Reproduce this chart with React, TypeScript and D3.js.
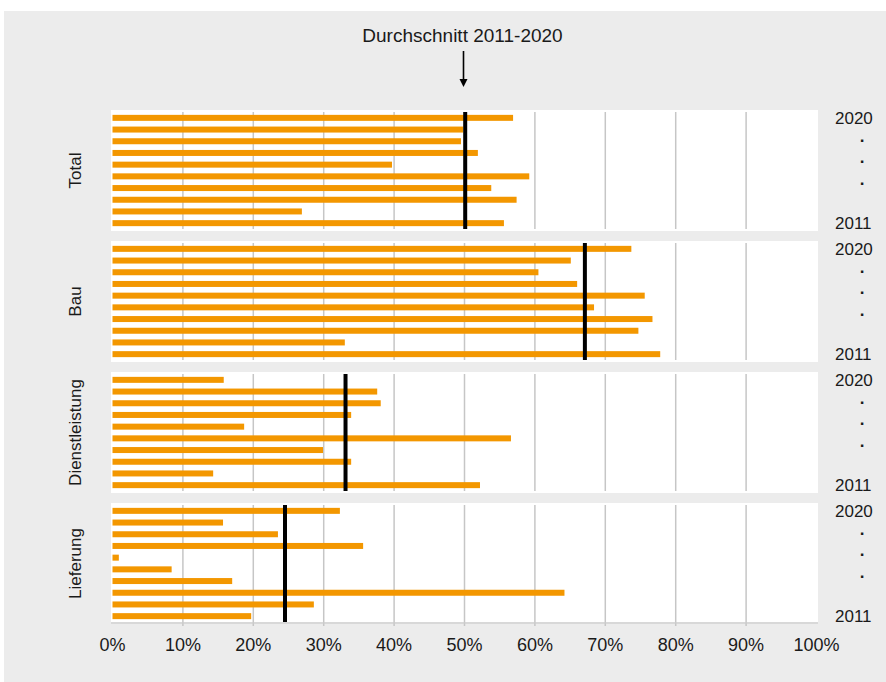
import React from 'react'
import * as d3 from 'd3'

// years from top to bottom inside each panel
const years = ['2020', '2019', '2018', '2017', '2016', '2015', '2014', '2013', '2012', '2011']
const categories = ['Total', 'Bau', 'Dienstleistung', 'Lieferung']

// shares in %, same order as years
const totalValues = [56.9, 49.8, 49.5, 51.9, 39.7, 59.2, 53.8, 57.4, 26.9, 55.6]
const bauValues = [73.7, 65.1, 60.5, 66.0, 75.6, 68.4, 76.7, 74.7, 33.0, 77.8]
const dienstValues = [15.8, 37.6, 38.1, 33.9, 18.7, 56.6, 29.9, 33.9, 14.3, 52.2]
const lieferValues = [32.3, 15.7, 23.5, 35.6, 0.9, 8.4, 17.0, 64.2, 28.6, 19.7]
const averages = [50.1, 67.1, 33.1, 24.5]

const xTicks = [0, 10, 20, 30, 40, 50, 60, 70, 80, 90, 100]
const dotRows = [1.55, 3.35, 5.25]

const W = 886
const H = 682
const FONT = '"Liberation Sans", Arial, Helvetica, sans-serif'
const ORANGE = '#f39700'

export default function App() {
  const series = [totalValues, bauValues, dienstValues, lieferValues]

  const x = d3.scaleLinear().domain([0, 100]).range([112.5, 816.5])
  const panelY = d3.scaleBand<string>().domain(categories).range([110, 110 + 131 * 4]).paddingInner(0)
  const panelH = 121

  return (
    <div style={{ position: 'absolute', left: 0, top: 0 }}>
      <svg width={W} height={H} style={{ display: 'block', fontFamily: FONT }}>
        <rect x={4} y={11} width={W - 4} height={H - 11} fill="#ececec" />

        {/* title + arrow */}
        <text x={462.5} y={41.7} textAnchor="middle" fontSize={19} fill="#1a1a1a">
          Durchschnitt 2011-2020
        </text>
        <line x1={x(50) - 1} x2={x(50) - 1} y1={51} y2={80} stroke="#000" strokeWidth={1.6} />
        <path d={`M${x(50) - 5},79 L${x(50) + 3},79 L${x(50) - 1},87 Z`} fill="#000" />

        {categories.map((cat, ci) => {
          const top = panelY(cat)!
          const y = d3
            .scaleBand<string>()
            .domain(years)
            .range([top + 2, top + 119])
            .paddingInner(0.5)
            .paddingOuter(0.25)
          const bh = 6
          const gridBottom = ci === categories.length - 1 ? top + 113 + 10 : top + 119
          return (
            <g key={cat}>
              <rect x={111} y={top} width={707} height={panelH} fill="#fff" />
              {xTicks.slice(1, -1).map(t => (
                <line key={t} x1={x(t)} x2={x(t)} y1={top + 2} y2={gridBottom} stroke="#c6c6c6" strokeWidth={1.5} />
              ))}
              {series[ci].map((v, i) => (
                <rect
                  key={years[i]}
                  x={x(0)}
                  y={y(years[i])! + y.bandwidth() / 2 - bh / 2}
                  width={x(v) - x(0)}
                  height={bh}
                  fill={ORANGE}
                />
              ))}
              <line x1={x(averages[ci])} x2={x(averages[ci])} y1={top + 2} y2={top + 119} stroke="#000" strokeWidth={4} />

              {/* category label */}
              <text
                transform={`translate(80.5,${top + panelH / 2}) rotate(-90)`}
                textAnchor="middle"
                fontSize={17}
                fill="#1a1a1a"
              >
                {cat}
              </text>

              {/* year labels on the right */}
              <text x={835} y={y(years[0])! + y.bandwidth() / 2} dy="0.35em" fontSize={17} fill="#1a1a1a">
                {years[0]}
              </text>
              {dotRows.map(r => (
                <text
                  key={r}
                  x={862}
                  y={top + 2 + y.step() * (0.25 + r) + y.bandwidth() / 2}
                  dy="0.35em"
                  textAnchor="middle"
                  fontSize={17}
                  fontWeight="bold"
                  fill="#1a1a1a"
                >
                  .
                </text>
              ))}
              <text
                x={835}
                y={y(years[years.length - 1])! + y.bandwidth() / 2}
                dy="0.35em"
                fontSize={17}
                fill="#1a1a1a"
              >
                {years[years.length - 1]}
              </text>
            </g>
          )
        })}

        {/* bottom axis */}
        <line x1={111} x2={818} y1={623} y2={623} stroke="#cbcbcb" strokeWidth={1.5} />
        {xTicks.map(t => (
          <text key={t} x={x(t)} y={651} textAnchor="middle" fontSize={18} fill="#1a1a1a">
            {t}%
          </text>
        ))}
      </svg>
    </div>
  )
}
